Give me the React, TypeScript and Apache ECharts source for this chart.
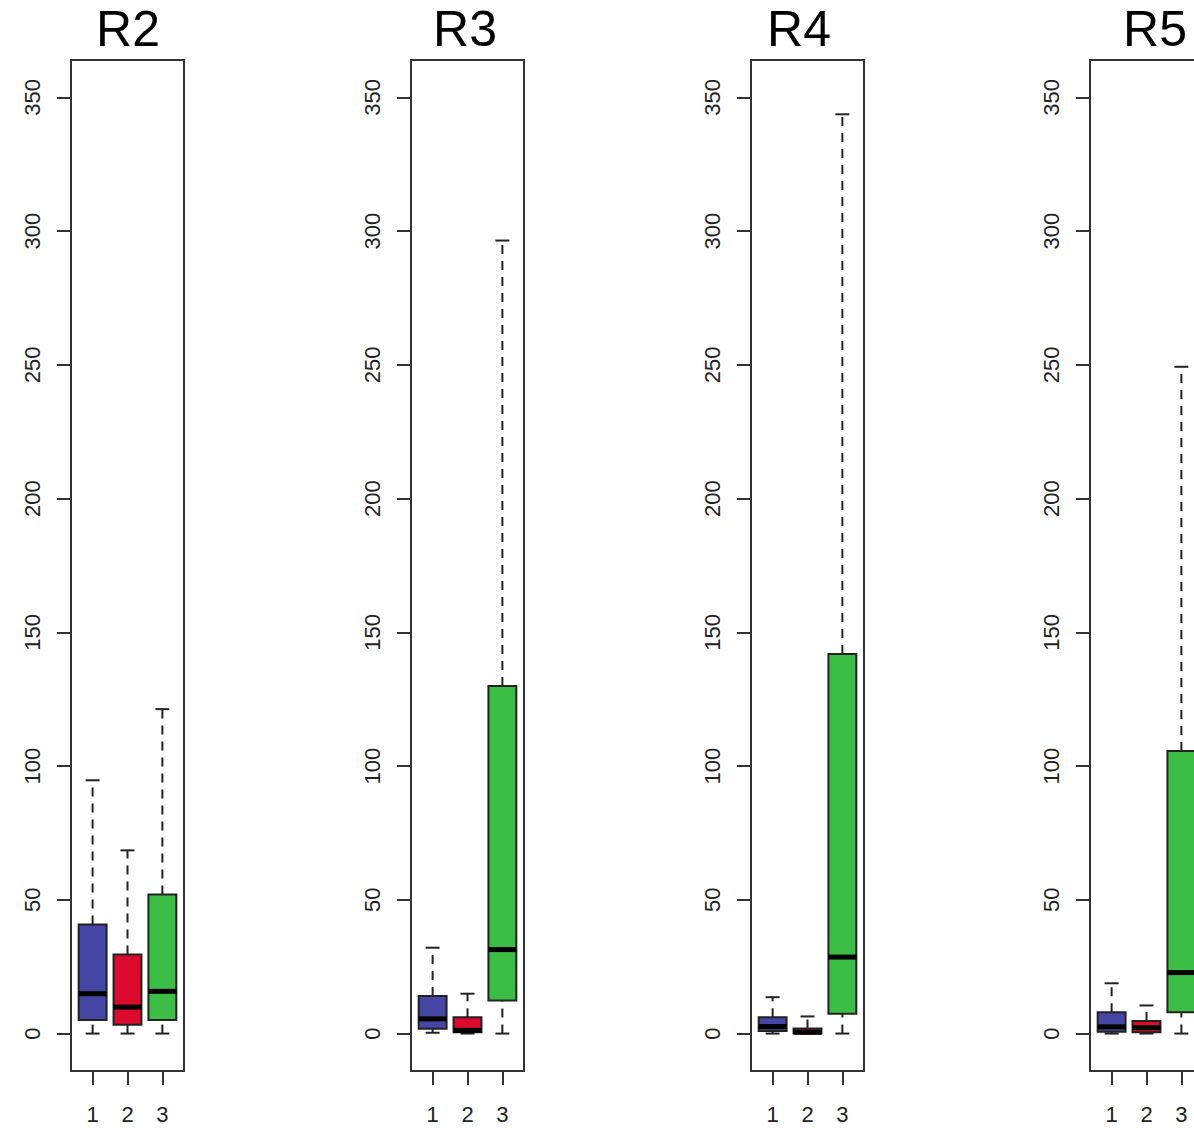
import React, { useEffect, useRef } from 'react';
import * as echarts from 'echarts';

const panelTitles = ['R2', 'R3', 'R4', 'R5'];
const groupLabels = ['1', '2', '3'];
const groupPositions = [1, 2, 3];
const yTicks = [0, 50, 100, 150, 200, 250, 300, 350];
const boxColors = ['#4646A4', '#DC0A2D', '#3CBE46'];

// each row: [lower whisker, Q1, median, Q3, upper whisker]
const r2Stats = [
  [0, 5.1, 14.9, 40.8, 94.7],
  [0, 3.3, 9.9, 29.6, 68.5],
  [0, 5.1, 15.8, 52.0, 121.3],
];
const r3Stats = [
  [0.3, 1.8, 5.5, 14.0, 32.1],
  [0, 0.5, 1.2, 6.1, 14.9],
  [0, 12.4, 31.4, 129.9, 296.5],
];
const r4Stats = [
  [0, 1.0, 2.6, 6.1, 13.6],
  [0, 0, 0.5, 1.9, 6.4],
  [0, 7.4, 28.6, 141.9, 343.7],
];
const r5Stats = [
  [0, 0.7, 2.5, 8.0, 18.8],
  [0, 0.5, 2.2, 4.7, 10.5],
  [0, 8.0, 22.8, 105.6, 249.3],
];
const panelStats = [r2Stats, r3Stats, r4Stats, r5Stats];

const gridLefts = [71, 411, 751, 1090];
const titleCenters = [128, 465, 799, 1155];
const FONT = '"Liberation Sans", Arial, sans-serif';

function renderBox(params: any, api: any) {
  const x = api.value(0);
  const lo = api.coord([x, api.value(1)]);
  const q1 = api.coord([x, api.value(2)]);
  const med = api.coord([x, api.value(3)]);
  const q3 = api.coord([x, api.value(4)]);
  const hi = api.coord([x, api.value(5)]);
  const ci = api.value(6);
  const half = api.size([0.4, 0])[0];
  const cap = api.size([0.2, 0])[0];
  const cx = lo[0];
  const dash = { stroke: '#222', lineWidth: 2, lineDash: [9, 7], fill: null };
  const solid = { stroke: '#222', lineWidth: 2, fill: null };
  return {
    type: 'group',
    children: [
      { type: 'line', shape: { x1: cx, y1: q3[1], x2: cx, y2: hi[1] }, style: dash },
      { type: 'line', shape: { x1: cx, y1: lo[1], x2: cx, y2: q1[1] }, style: dash },
      { type: 'line', shape: { x1: cx - cap, y1: hi[1], x2: cx + cap, y2: hi[1] }, style: solid },
      { type: 'line', shape: { x1: cx - cap, y1: lo[1], x2: cx + cap, y2: lo[1] }, style: solid },
      {
        type: 'rect',
        shape: { x: cx - half, y: q3[1], width: 2 * half, height: q1[1] - q3[1] },
        style: { fill: boxColors[ci], stroke: '#222', lineWidth: 2 },
      },
      { type: 'line', shape: { x1: cx - half, y1: med[1], x2: cx + half, y2: med[1] }, style: { stroke: '#000', lineWidth: 5 } },
    ],
  };
}

export default function App() {
  const ref = useRef<HTMLDivElement>(null);
  useEffect(() => {
    if (!ref.current) return;
    const chart = echarts.init(ref.current, undefined, { renderer: 'svg' });
    const option: any = {
      animation: false,
      backgroundColor: '#ffffff',
      grid: gridLefts.map((l) => ({
        left: l,
        top: 60,
        width: 113,
        height: 1011,
        show: true,
        borderColor: '#333',
        borderWidth: 2,
        backgroundColor: 'transparent',
      })),
      xAxis: panelTitles.map((_, i) => ({
        type: 'value',
        gridIndex: i,
        min: 0.38,
        max: 3.62,
        axisLine: { show: false, onZero: false },
        splitLine: { show: false },
        axisTick: { show: true, length: 14, lineStyle: { color: '#333', width: 2 }, customValues: groupPositions },
        axisLabel: {
          customValues: groupPositions,
          formatter: (v: number) => groupLabels[Math.round(v) - 1],
          fontSize: 22,
          fontFamily: FONT,
          color: '#222',
          margin: 32,
        },
      })),
      yAxis: panelTitles.map((_, i) => ({
        type: 'value',
        gridIndex: i,
        min: -14,
        max: 364,
        axisLine: { show: false, onZero: false },
        splitLine: { show: false },
        axisTick: { show: true, length: 14, lineStyle: { color: '#333', width: 2 }, customValues: yTicks },
        axisLabel: {
          customValues: yTicks,
          rotate: 90,
          fontSize: 22,
          fontFamily: FONT,
          color: '#222',
          margin: 28,
        },
      })),
      graphic: panelTitles.map((t, i) => ({
        type: 'text',
        x: titleCenters[i],
        y: 28.5,
        style: { text: t, font: `50px ${FONT}`, align: 'center', verticalAlign: 'middle', fill: '#000' },
      })),
      series: panelStats.map((stats, i) => ({
        type: 'custom',
        xAxisIndex: i,
        yAxisIndex: i,
        data: stats.map((s, j) => [groupPositions[j], ...s, j]),
        encode: { x: 0, y: [1, 2, 3, 4, 5] },
        renderItem: renderBox,
      })),
    };
    chart.setOption(option);
    return () => chart.dispose();
  }, []);
  return (
    <div style={{ position: 'absolute', left: 0, top: 0, width: 1194, height: 1128, overflow: 'hidden', background: '#fff' }}>
      <div ref={ref} style={{ width: 1220, height: 1128 }} />
    </div>
  );
}
